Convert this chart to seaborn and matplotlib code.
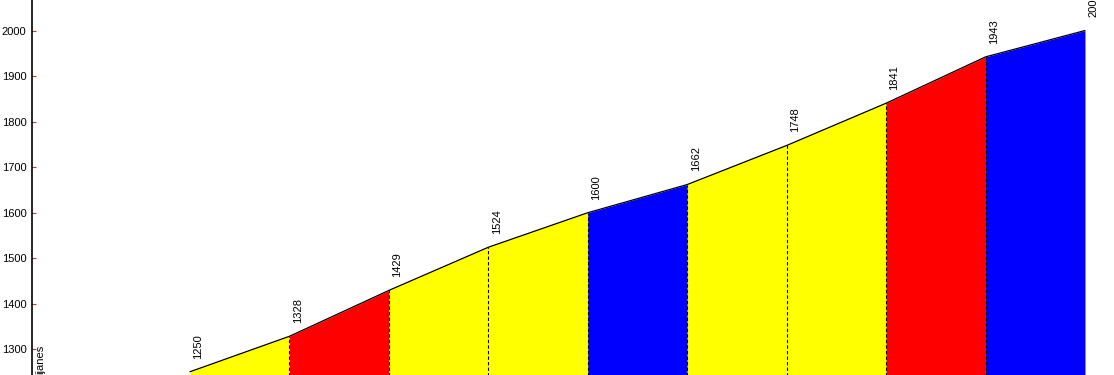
import matplotlib
matplotlib.use("Agg")
import matplotlib.pyplot as plt
import seaborn as sns
import pandas as pd

# Data
km = [0, 1, 2, 3, 4, 5, 6, 7, 8, 9]
elev = [1250, 1328, 1429, 1524, 1600, 1662, 1748, 1841, 1943, 2001]
seg_colors = ["#FFFF00", "#FF0000", "#FFFF00", "#FFFF00", "#0000FF",
              "#FFFF00", "#FFFF00", "#FF0000", "#0000FF"]
yticks = [1300, 1400, 1500, 1600, 1700, 1800, 1900, 2000]
start_label = "ijanes"

sns.set_style("white")
plt.rcParams["font.family"] = ["Liberation Sans", "DejaVu Sans"]

W, H = 1114, 375
fig = plt.figure(figsize=(W / 100, H / 100), dpi=100)
ax = fig.add_axes([32 / W, 0, 1 - 32 / W, 1])

ymin, ymax = 1242.8, 2068.2
x_left, x_right = -1.589, 9.292

# Filled segments
for i, c in enumerate(seg_colors):
    ax.fill_between(km[i:i + 2], elev[i:i + 2], ymin - 50, color=c, lw=0, zorder=1)

# Dashed km separators
for x, y in zip(km[1:-1], elev[1:-1]):
    ax.plot([x, x], [ymin - 50, y], color="black", lw=0.8,
            ls=(0, (3, 2)), zorder=2)

df = pd.DataFrame({"km": km, "elev": elev})
sns.lineplot(data=df, x="km", y="elev", ax=ax, color="black", lw=0.9,
             zorder=3, legend=False)

# Elevation labels
for x, y in zip(km, elev):
    ax.annotate(str(y), (x, y), xytext=(2.5, 9.5), textcoords="offset points",
                rotation=90, ha="left", va="bottom", fontsize=8,
                color="black", annotation_clip=False)

ax.set_xlim(x_left, x_right)
ax.set_ylim(ymin, ymax)
ax.set_yticks(yticks)
ax.set_yticklabels([str(t) for t in yticks], fontsize=8, color="black")
ax.set_xticks([])
ax.set_xlabel("")
ax.set_ylabel("")
for s in ["top", "right", "bottom"]:
    ax.spines[s].set_visible(False)
ax.spines["left"].set_color("black")
ax.spines["left"].set_linewidth(1.2)
ax.tick_params(axis="y", direction="in", length=3, width=0.8,
               color="#b04040", pad=4, left=True, labelcolor="black")

fig.text(35 / W, 1 - 345 / H, start_label, rotation=90, ha="left", va="top",
         fontsize=8, color="black")

fig.savefig("out.png", dpi=100)
